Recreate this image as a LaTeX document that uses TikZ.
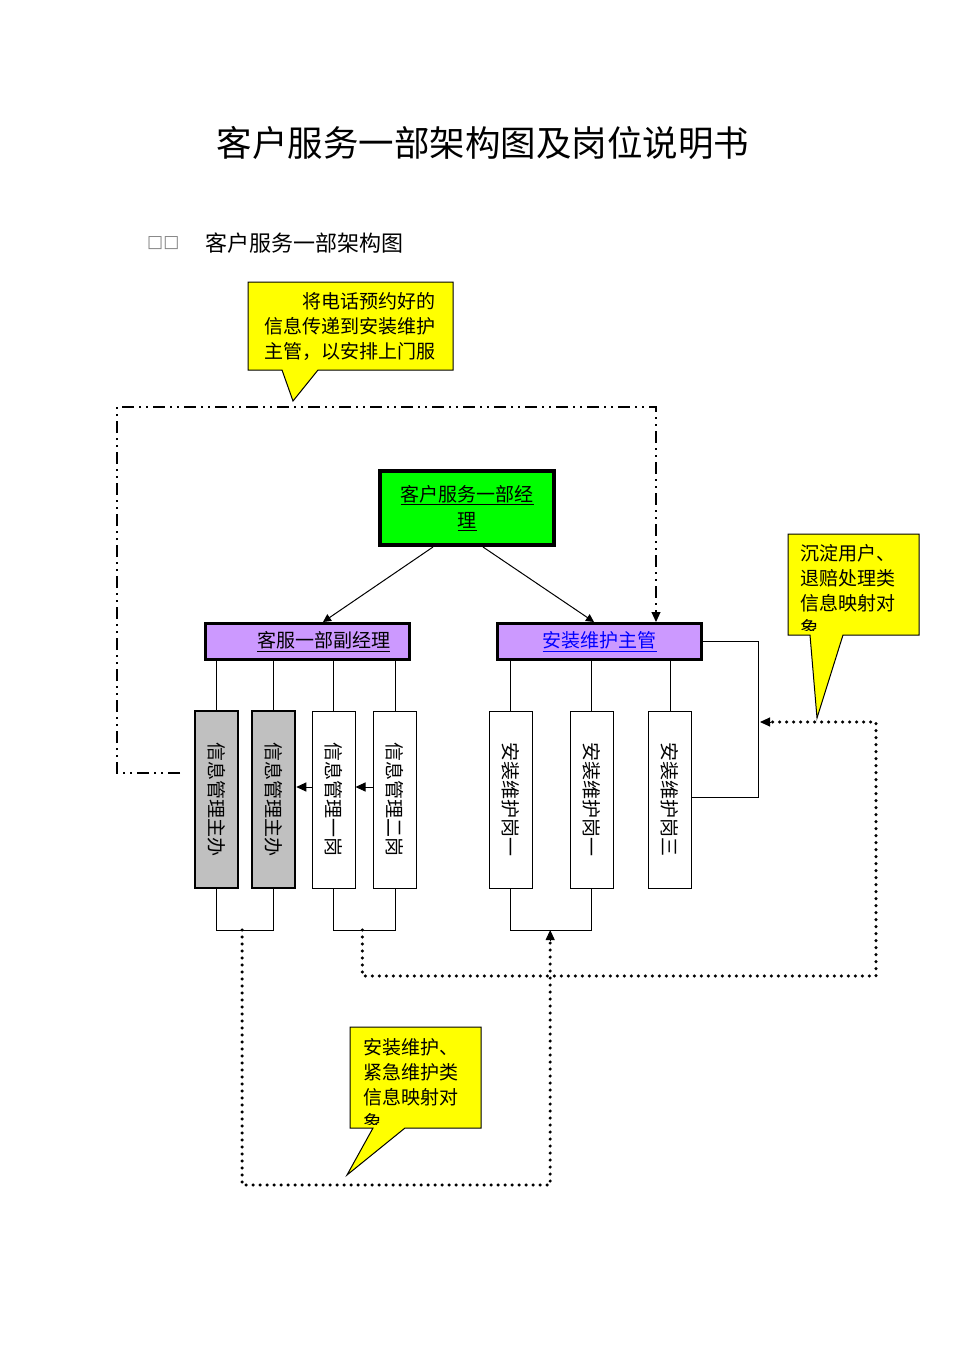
\documentclass[tikz,border=0pt]{standalone}
\usepackage{fontspec}
\setmainfont{Noto Sans CJK SC}
\newfontfamily\symfont{DejaVu Sans}
\usetikzlibrary{arrows.meta,calc}
\definecolor{cgreen}{HTML}{00FF00}
\definecolor{cpurple}{HTML}{CC99FF}
\definecolor{cgray}{HTML}{C0C0C0}
\definecolor{cyellow}{HTML}{FFFF00}
\definecolor{cblue}{HTML}{0000FF}
\begin{document}
\begin{tikzpicture}[x=1pt,y=-1pt,
  mgrbox/.style={draw,line width=4pt,fill=cgreen,minimum width=174pt,minimum height=74pt,inner sep=0pt,align=center,font=\fontsize{19}{26}\selectfont},
  subbox/.style={draw,line width=3pt,fill=cpurple,minimum width=204pt,minimum height=36pt,inner sep=0pt,font=\fontsize{19}{22}\selectfont},
  leafbox/.style={draw,line width=1pt,fill=white,minimum width=43pt,minimum height=177pt,inner sep=0pt},
  grayleaf/.style={leafbox,line width=2.5pt,fill=cgray},
  vtext/.style={rotate=-90,inner sep=0pt,font=\fontsize{19}{22}\selectfont},
  arr/.style={-{Triangle[length=10pt,width=9pt]}},
  dotline/.style={line width=3.4pt,line cap=round,dash pattern=on 0pt off 7pt},
  ddline/.style={line width=2.5pt,dash pattern=on 12pt off 5pt on 2pt off 5pt on 2pt off 5pt},
  callout/.style={draw,line width=1pt,fill=cyellow},
  ctext/.style={inner sep=0pt,font=\fontsize{19}{25}\selectfont}
]
\useasboundingbox (0,0) rectangle (965,1365);

% titles
\node[inner sep=0pt,font=\fontsize{35.5}{40}\selectfont] (title) at (483,143) {客户服务一部架构图及岗位说明书};
\node[inner sep=0pt,anchor=west,text=gray,font=\symfont\fontsize{17}{20}\selectfont] (boxes) at (147,243) {□□};
\node[inner sep=0pt,anchor=west,font=\fontsize{22}{26}\selectfont] (subtitle) at (205,243) {客户服务一部架构图};

% main nodes
\node[mgrbox] (top) at (467,508) {\underline{客户服务一部经}\\\underline{理}};
\node[subbox] (m1) at (307.5,641.5) {\hspace*{32pt}\underline{客服一部副经理}};
\node[subbox,text=cblue] (m2) at (599.5,641.5) {\underline{安装维护主管}};

% leaves
\node[grayleaf] (g1) at (216.5,799.5) {};
\node[vtext] at (g1) {信息管理主办};
\node[grayleaf] (g2) at (273.5,799.5) {};
\node[vtext] at (g2) {信息管理主办};
\node[leafbox] (x1) at (333.5,799.5) {};
\node[vtext] at (x1) {信息管理一岗};
\node[leafbox] (x2) at (395,799.5) {};
\node[vtext] at (x2) {信息管理二岗};
\node[leafbox] (i1) at (510.5,799.5) {};
\node[vtext] at (i1) {安装维护岗一};
\node[leafbox] (i2) at (591.5,799.5) {};
\node[vtext] at (i2) {安装维护岗一};
\node[leafbox] (i3) at (670,799.5) {};
\node[vtext] at (i3) {安装维护岗三};

% top connectors
\draw[line width=1pt,-{Triangle[length=8pt,width=8pt]}] ([xshift=-34pt]top.south) -- ([xshift=15.5pt]m1.north);
\draw[line width=1pt,-{Triangle[length=8pt,width=8pt]}] ([xshift=16pt]top.south) -- ([xshift=-5.5pt]m2.north);

% parent to child lines
\foreach \c in {g1,g2,x1,x2}{\draw[line width=1pt] (\c.north) -- (\c.north |- m1.south);}
\foreach \c in {i1,i2,i3}{\draw[line width=1pt] (\c.north) -- (\c.north |- m2.south);}

% arrows between info boxes
\coordinate (ya) at (0,787);
\draw[line width=1pt,arr] (x2.west |- ya) -- (x1.east |- ya);
\draw[line width=1pt,arr] (x1.west |- ya) -- (g2.east |- ya);

% bottom brackets
\coordinate (yb) at (0,930);
\draw[line width=1pt] (g1.south) -- (g1.south |- yb) -| (g2.south);
\draw[line width=1pt] (x1.south) -- (x1.south |- yb) -| (x2.south);
\draw[line width=1pt] (i1.south) -- (i1.south |- yb) -| (i2.south);
\coordinate (lb) at ($(g1.south |- yb)!0.45!(g2.south |- yb)$);
\coordinate (mb) at ($(x1.south |- yb)!0.47!(x2.south |- yb)$);
\coordinate (rb) at ($(i1.south |- yb)!0.49!(i2.south |- yb)$);

% right loop
\coordinate (rx) at (758,797);
\coordinate (rin) at (760,722);
\draw[line width=1pt] (m2.east) -| (rx) -- (i3.east |- rx);

% dotted connectors
\coordinate (dr) at (876,976);
\draw[dotline] (mb) |- (dr) |- ([xshift=8pt]rin);
\draw[line width=1pt,arr] ([xshift=10pt]rin) -- (rin);
\coordinate (yc) at (0,1185);
\draw[dotline] (lb) -- (lb |- yc) -| ([yshift=-10pt]rb);
\draw[line width=1pt,arr] ([yshift=-11pt]rb) -- (rb);

% dash-dot-dot connector
\coordinate (dl) at (180,773);
\coordinate (tl) at (117,407);
\coordinate (tx) at (656,0);
\draw[ddline] (dl) -| (tl) -| ([yshift=9pt]m2.north -| tx);
\draw[line width=1pt,arr] ([yshift=10pt]m2.north -| tx) -- (m2.north -| tx);

% callout 1
\draw[callout] (248,282) -- (453,282) -- (453,370) -- (318,370) -- (293,401) -- (282,370) -- (248,370) -- cycle;
\node[ctext,anchor=north east,align=right] (c1) at (436,292) {将电话预约好的\\信息传递到安装维护\\主管，以安排上门服};

% callout 2
\draw[callout] (788,534) -- (919,534) -- (919,635) -- (843,635) -- (817,718) -- (810,635) -- (788,635) -- cycle;
\begin{scope}
\clip (789,535) rectangle (918,630);
\node[ctext,anchor=north west,align=left] (c2) at (800,544) {沉淀用户、\\退赔处理类\\信息映射对\\象};
\end{scope}

% callout 3
\draw[callout] (350,1027) -- (481,1027) -- (481,1128) -- (405,1128) -- (347,1175) -- (373,1128) -- (350,1128) -- cycle;
\begin{scope}
\clip (351,1028) rectangle (480,1124);
\node[ctext,anchor=north west,align=left] (c3) at (363,1038) {安装维护、\\紧急维护类\\信息映射对\\象};
\end{scope}
\end{tikzpicture}
\end{document}
